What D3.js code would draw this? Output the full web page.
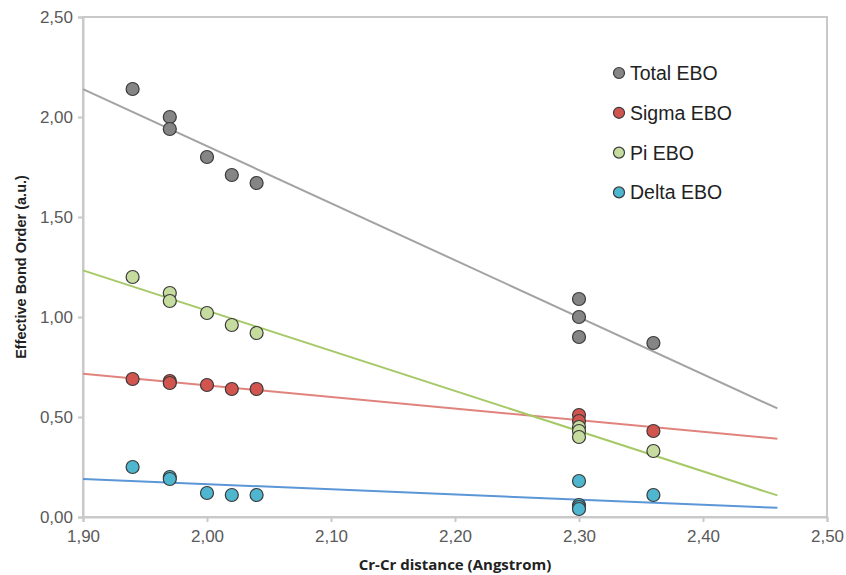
<!DOCTYPE html>
<html>
<head>
<meta charset="utf-8">
<script src="https://cdn.jsdelivr.net/npm/d3@7"></script>
<style>
  body { margin: 0; background: #fff; }
  svg { display: block; font-family: "Liberation Sans", Arial, sans-serif; }
</style>
</head>
<body>
<svg width="846" height="575"></svg>
<script>
// Cr-Cr distance (Angstrom) for each series
let totalX = [1.94, 1.97, 1.97, 2.00, 2.02, 2.04, 2.30, 2.30, 2.30, 2.36]
let totalY = [2.14, 2.00, 1.94, 1.80, 1.71, 1.67, 1.09, 1.00, 0.90, 0.87]
let sigmaX = [1.94, 1.97, 1.97, 2.00, 2.02, 2.04, 2.30, 2.30, 2.36]
let sigmaY = [0.69, 0.68, 0.67, 0.66, 0.64, 0.64, 0.51, 0.48, 0.43]
let piX = [1.94, 1.97, 1.97, 2.00, 2.02, 2.04, 2.30, 2.30, 2.30, 2.36]
let piY = [1.20, 1.12, 1.08, 1.02, 0.96, 0.92, 0.45, 0.43, 0.40, 0.33]
let deltaX = [1.94, 1.97, 1.97, 2.00, 2.02, 2.04, 2.30, 2.30, 2.30, 2.30, 2.36]
let deltaY = [0.25, 0.20, 0.19, 0.12, 0.11, 0.11, 0.18, 0.06, 0.05, 0.04, 0.11]

let seriesNames = ['Total EBO', 'Sigma EBO', 'Pi EBO', 'Delta EBO']
let xTicks = [1.90, 2.00, 2.10, 2.20, 2.30, 2.40, 2.50]
let yTicks = [0, 0.5, 1.0, 1.5, 2.0, 2.5]
let trendRange = [1.90, 2.46]

let fills = ['#858585', '#d1554e', '#c6db9e', '#4fb6cf']
let lineColors = ['#a3a3a3', '#e0837d', '#a6c968', '#5b96d6']

let series = [
  {xs: totalX, ys: totalY},
  {xs: sigmaX, ys: sigmaY},
  {xs: piX, ys: piY},
  {xs: deltaX, ys: deltaY}
]

let svg = d3.select('svg')
let fmt = d3.format('.2f')
let comma = v => fmt(v).replace('.', ',')

let x = d3.scaleLinear().domain([1.90, 2.50]).range([83, 827])
let y = d3.scaleLinear().domain([0, 2.5]).range([517, 17])

// plot frame
svg.append('rect')
  .attr('x', x(1.90)).attr('y', y(2.5))
  .attr('width', x(2.5) - x(1.90)).attr('height', y(0) - y(2.5))
  .attr('fill', 'none').attr('stroke', '#c9c9c9').attr('stroke-width', 2)

let xAxis = svg.append('g')
  .attr('transform', 'translate(0,' + y(0) + ')')
  .call(d3.axisBottom(x).tickValues(xTicks).tickFormat(comma).tickSize(5).tickPadding(8))
let yAxis = svg.append('g')
  .attr('transform', 'translate(' + x(1.90) + ',0)')
  .call(d3.axisLeft(y).tickValues(yTicks).tickFormat(comma).tickSize(5).tickPadding(5))

;[xAxis, yAxis].forEach(function(a) {
  a.select('.domain').attr('stroke', '#c9c9c9').attr('stroke-width', 2)
  a.selectAll('.tick line').attr('stroke', '#c9c9c9').attr('stroke-width', 2)
  a.selectAll('.tick text').attr('fill', '#5a5a5a').style('font-size', '17px')
})

// least squares trendlines
function fit(xs, ys) {
  let mx = d3.mean(xs), my = d3.mean(ys)
  let sxy = d3.sum(xs, (v, i) => (v - mx) * (ys[i] - my))
  let sxx = d3.sum(xs, v => (v - mx) * (v - mx))
  let b = sxy / sxx
  return v => my + b * (v - mx)
}

let line = d3.line().x(d => x(d[0])).y(d => y(d[1]))

series.forEach(function(s, i) {
  let f = fit(s.xs, s.ys)
  svg.append('path')
    .datum(trendRange.map(v => [v, f(v)]))
    .attr('d', line)
    .attr('fill', 'none')
    .attr('stroke', lineColors[i])
    .attr('stroke-width', 2)
})

series.forEach(function(s, i) {
  svg.append('g').selectAll('circle')
    .data(s.xs.map((v, j) => [v, s.ys[j]]))
    .enter()
    .append('circle')
    .attr('cx', d => x(d[0]))
    .attr('cy', d => y(d[1]))
    .attr('r', 6.5)
    .attr('fill', fills[i])
    .attr('stroke', '#3a3a3a')
    .attr('stroke-width', 1.2)
})

// legend
let legend = svg.append('g').selectAll('g')
  .data(seriesNames).enter()
  .append('g')
  .attr('transform', (d, i) => 'translate(619,' + (73 + i * 39.8) + ')')
legend.append('circle')
  .attr('r', 5.5)
  .attr('fill', (d, i) => fills[i])
  .attr('stroke', '#3a3a3a').attr('stroke-width', 1.2)
legend.append('text')
  .attr('x', 11).attr('dy', '0.36em')
  .style('font-size', '19.5px').attr('fill', '#222')
  .text(d => d)

// axis titles
svg.append('text')
  .attr('x', 455).attr('y', 570)
  .attr('text-anchor', 'middle')
  .style('font-size', '15px').style('font-weight', 'bold')
  .style('font-family', '"Open Sans", sans-serif')
  .attr('fill', '#222')
  .text('Cr-Cr distance (Angstrom)')
svg.append('text')
  .attr('transform', 'translate(26,267) rotate(-90)')
  .attr('text-anchor', 'middle')
  .style('font-size', '14.5px').style('font-weight', 'bold')
  .attr('fill', '#222')
  .text('Effective Bond Order (a.u.)')
</script>
</body>
</html>
